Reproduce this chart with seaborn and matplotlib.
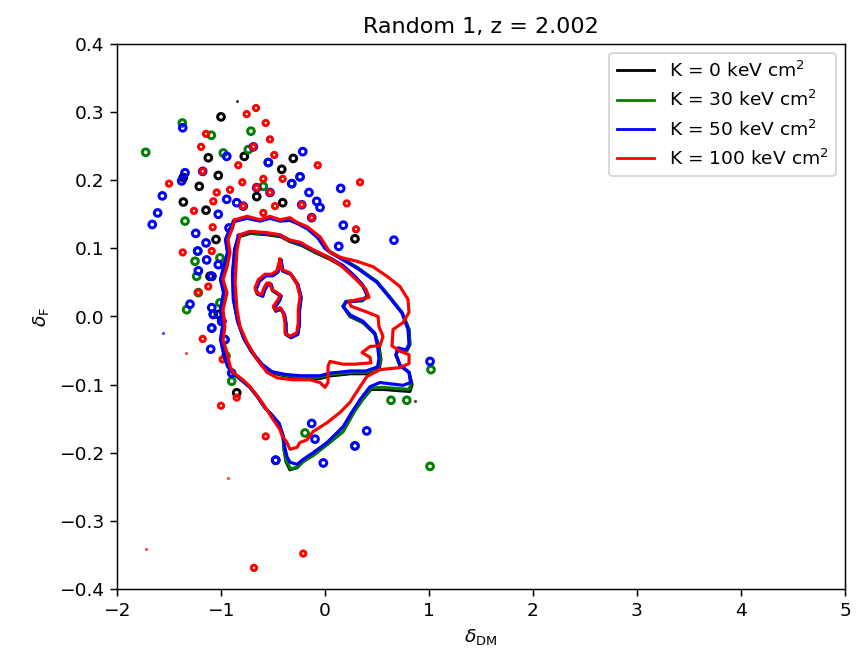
import numpy as np
import pandas as pd
import seaborn as sns
import matplotlib
matplotlib.use("Agg")
import matplotlib.pyplot as plt

# legend labels / line colours
k_labels = [r"K = 0 keV cm$^2$", r"K = 30 keV cm$^2$",
            r"K = 50 keV cm$^2$", r"K = 100 keV cm$^2$"]
k_colors = ["black", "green", "blue", "red"]

# ---- contour outlines (delta_DM, delta_F) ----
# innermost loop
inner_x_k0 = [-0.427, -0.410, -0.331, -0.266, -0.234, -0.251, -0.251, -0.266, -0.331, -0.379, -0.379, -0.395, -0.427, -0.475,
              -0.491, -0.443, -0.427, -0.506, -0.523, -0.555, -0.587, -0.603, -0.651, -0.667, -0.635, -0.571, -0.506, -0.458]
inner_x_k30 = [-0.424, -0.407, -0.328, -0.263, -0.231, -0.248, -0.248, -0.263, -0.328, -0.376, -0.376, -0.392, -0.424, -0.472,
               -0.488, -0.440, -0.424, -0.503, -0.520, -0.552, -0.584, -0.600, -0.648, -0.664, -0.632, -0.568, -0.503, -0.455]
inner_x_k50 = [-0.421, -0.404, -0.325, -0.260, -0.228, -0.245, -0.245, -0.260, -0.325, -0.373, -0.373, -0.389, -0.421, -0.469,
               -0.485, -0.437, -0.421, -0.500, -0.517, -0.549, -0.581, -0.597, -0.645, -0.661, -0.629, -0.565, -0.500, -0.452]
inner_y_low = [0.082, 0.067, 0.062, 0.047, 0.028, 0.008, -0.011, -0.026, -0.031, -0.026, -0.011, 0.003, 0.011, 0.008,
               0.013, 0.023, 0.030, 0.038, 0.047, 0.047, 0.038, 0.030, 0.033, 0.040, 0.052, 0.060, 0.060, 0.065]
inner_x_k100 = [-0.433, -0.416, -0.337, -0.272, -0.240, -0.257, -0.257, -0.272, -0.337, -0.385, -0.385, -0.401, -0.433, -0.481,
                -0.497, -0.449, -0.433, -0.512, -0.529, -0.561, -0.593, -0.609, -0.657, -0.673, -0.641, -0.577, -0.512, -0.464]
inner_y_k100 = [0.084, 0.069, 0.064, 0.049, 0.030, 0.010, -0.009, -0.024, -0.029, -0.024, -0.009, 0.005, 0.013, 0.010,
                0.015, 0.025, 0.032, 0.040, 0.049, 0.049, 0.040, 0.032, 0.035, 0.042, 0.054, 0.062, 0.062, 0.067]

# middle loop
mid_x_k0 = [-0.827, -0.721, -0.558, -0.423, -0.337, -0.221, -0.096, 0.048, 0.173, 0.288, 0.365, 0.413, 0.356, 0.202, 0.173, 0.240, 0.365, 0.481,
            0.519, 0.538, 0.519, 0.394, 0.240, 0.125, 0.048, -0.048, -0.240, -0.385, -0.510, -0.606, -0.702, -0.779, -0.837, -0.875, -0.885, -0.865]
mid_y_k0 = [0.117, 0.122, 0.120, 0.117, 0.110, 0.104, 0.094, 0.084, 0.073, 0.057, 0.044, 0.029, 0.023, 0.022, 0.015, 0.000, -0.009, -0.026,
            -0.044, -0.063, -0.078, -0.084, -0.084, -0.086, -0.087, -0.091, -0.091, -0.087, -0.083, -0.072, -0.053, -0.033, -0.008, 0.025, 0.062, 0.098]
mid_x_k30 = [-0.830, -0.721, -0.558, -0.423, -0.337, -0.221, -0.096, 0.048, 0.173, 0.288, 0.365, 0.413, 0.356, 0.202, 0.173, 0.240, 0.365, 0.481,
             0.514, 0.534, 0.514, 0.394, 0.240, 0.125, 0.048, -0.048, -0.240, -0.385, -0.510, -0.606, -0.702, -0.779, -0.840, -0.879, -0.888, -0.868]
mid_y_k30 = [0.118, 0.123, 0.121, 0.118, 0.111, 0.105, 0.095, 0.085, 0.074, 0.058, 0.045, 0.030, 0.024, 0.022, 0.015, 0.001, -0.008, -0.025,
             -0.044, -0.063, -0.076, -0.082, -0.082, -0.084, -0.085, -0.089, -0.089, -0.086, -0.082, -0.071, -0.052, -0.032, -0.007, 0.025, 0.062, 0.098]
mid_x_k50 = [-0.833, -0.721, -0.558, -0.423, -0.337, -0.221, -0.096, 0.048, 0.173, 0.288, 0.365, 0.408, 0.356, 0.202, 0.178, 0.245, 0.365, 0.476,
             0.505, 0.519, 0.505, 0.394, 0.240, 0.125, 0.048, -0.048, -0.240, -0.385, -0.510, -0.606, -0.707, -0.784, -0.842, -0.882, -0.890, -0.870]
mid_y_k50 = [0.119, 0.124, 0.122, 0.119, 0.112, 0.106, 0.096, 0.086, 0.075, 0.059, 0.046, 0.030, 0.024, 0.021, 0.014, 0.002, -0.007, -0.024,
             -0.043, -0.062, -0.074, -0.080, -0.080, -0.082, -0.083, -0.087, -0.087, -0.085, -0.081, -0.070, -0.051, -0.031, -0.006, 0.025, 0.062, 0.098]
mid_x_k100 = [-0.817, -0.721, -0.558, -0.433, -0.365, -0.240, -0.115, 0.019, 0.144, 0.288, 0.394, 0.423, 0.317, 0.231, 0.250, 0.394, 0.510,
              0.519, 0.558, 0.529, 0.433, 0.356, 0.433, 0.442, 0.288, 0.173, 0.048, 0.029, 0.029, 0.000, -0.048, -0.144, -0.308, -0.462,
              -0.558, -0.654, -0.750, -0.817, -0.846, -0.865, -0.846]
mid_y_k100 = [0.120, 0.125, 0.123, 0.120, 0.113, 0.109, 0.098, 0.088, 0.076, 0.056, 0.040, 0.028, 0.025, 0.022, 0.015, 0.007, 0.000,
              -0.015, -0.029, -0.043, -0.044, -0.053, -0.060, -0.068, -0.070, -0.070, -0.066, -0.073, -0.097, -0.104, -0.097, -0.093, -0.093, -0.090,
              -0.082, -0.063, -0.038, -0.015, 0.010, 0.050, 0.098]

# outer loop
outer_x_k0 = [-0.875, -0.750, -0.625, -0.529, -0.433, -0.337, -0.260, -0.163, -0.067, 0.000, 0.048, 0.173, 0.308, 0.500, 0.625, 0.740,
              0.808, 0.817, 0.788, 0.702, 0.683, 0.721, 0.808, 0.837, 0.817, 0.721, 0.558, 0.442, 0.356, 0.279, 0.173, 0.019, -0.115,
              -0.212, -0.269, -0.337, -0.375, -0.394, -0.404, -0.442, -0.510, -0.577, -0.644, -0.721, -0.798, -0.894, -0.933, -0.971,
              -1.000, -0.981, -1.000, -0.971, -1.000, -0.971, -0.933, -0.952, -0.904]
outer_y_k0 = [0.140, 0.145, 0.141, 0.145, 0.141, 0.142, 0.137, 0.129, 0.116, 0.101, 0.095, 0.084, 0.072, 0.051, 0.028, 0.006,
              -0.019, -0.041, -0.050, -0.047, -0.057, -0.072, -0.082, -0.100, -0.110, -0.109, -0.107, -0.107, -0.123, -0.140, -0.169, -0.188, -0.204,
              -0.213, -0.222, -0.225, -0.213, -0.195, -0.175, -0.157, -0.145, -0.134, -0.119, -0.104, -0.094, -0.082, -0.073, -0.054,
              -0.034, -0.015, 0.010, 0.035, 0.054, 0.073, 0.094, 0.113, 0.131]
outer_x_k30 = [-0.878, -0.750, -0.625, -0.529, -0.433, -0.337, -0.260, -0.163, -0.067, 0.000, 0.048, 0.173, 0.308, 0.500, 0.625, 0.740,
               0.804, 0.813, 0.784, 0.702, 0.683, 0.721, 0.808, 0.827, 0.808, 0.721, 0.558, 0.442, 0.356, 0.279, 0.173, 0.019, -0.115,
               -0.212, -0.269, -0.327, -0.370, -0.394, -0.404, -0.442, -0.510, -0.577, -0.644, -0.721, -0.798, -0.894, -0.935, -0.973,
               -1.002, -0.983, -1.002, -0.973, -1.002, -0.973, -0.935, -0.954, -0.906]
outer_y_k30 = [0.140, 0.145, 0.141, 0.145, 0.141, 0.142, 0.137, 0.129, 0.116, 0.101, 0.095, 0.084, 0.072, 0.051, 0.028, 0.006,
               -0.019, -0.041, -0.050, -0.047, -0.057, -0.072, -0.082, -0.099, -0.107, -0.106, -0.104, -0.105, -0.123, -0.140, -0.169, -0.188, -0.204,
               -0.213, -0.221, -0.224, -0.213, -0.195, -0.175, -0.157, -0.145, -0.134, -0.119, -0.104, -0.094, -0.082, -0.073, -0.054,
               -0.034, -0.015, 0.010, 0.035, 0.054, 0.073, 0.094, 0.113, 0.131]
outer_x_k50 = [-0.880, -0.750, -0.625, -0.529, -0.433, -0.337, -0.260, -0.163, -0.067, 0.000, 0.048, 0.173, 0.308, 0.500, 0.625, 0.740,
               0.798, 0.808, 0.779, 0.702, 0.683, 0.721, 0.808, 0.824, 0.750, 0.529, 0.433, 0.337, 0.260, 0.173, 0.019, -0.115, -0.212,
               -0.269, -0.337, -0.365, -0.385, -0.404, -0.442, -0.510, -0.577, -0.644, -0.721, -0.798, -0.894, -0.938, -0.976, -1.005,
               -0.986, -1.005, -0.976, -1.005, -0.976, -0.938, -0.957, -0.909]
outer_y_k50 = [0.139, 0.144, 0.140, 0.144, 0.140, 0.141, 0.136, 0.128, 0.115, 0.100, 0.094, 0.083, 0.071, 0.050, 0.027, 0.005,
               -0.019, -0.041, -0.049, -0.046, -0.056, -0.071, -0.082, -0.097, -0.101, -0.097, -0.103, -0.122, -0.140, -0.162, -0.185, -0.200, -0.210,
               -0.217, -0.214, -0.206, -0.193, -0.175, -0.157, -0.145, -0.134, -0.119, -0.104, -0.094, -0.082, -0.073, -0.054, -0.034,
               -0.015, 0.010, 0.035, 0.054, 0.073, 0.094, 0.113, 0.131]
outer_x_k100 = [-0.865, -0.750, -0.625, -0.529, -0.433, -0.337, -0.269, -0.173, -0.048, 0.048, 0.144, 0.308, 0.462, 0.596, 0.721,
                0.798, 0.808, 0.750, 0.654, 0.644, 0.721, 0.808, 0.808, 0.721, 0.529, 0.404, 0.337, 0.240, 0.144, 0.019, -0.115, -0.173,
                -0.240, -0.269, -0.337, -0.365, -0.413, -0.433, -0.500, -0.558, -0.625, -0.721, -0.788, -0.885, -0.913, -0.942, -0.981,
                -0.962, -0.981, -0.942, -0.981, -0.942, -0.913, -0.933, -0.885]
outer_y_k100 = [0.142, 0.147, 0.142, 0.147, 0.142, 0.145, 0.138, 0.132, 0.117, 0.094, 0.087, 0.081, 0.073, 0.059, 0.044,
                0.025, 0.006, -0.009, -0.019, -0.043, -0.051, -0.056, -0.069, -0.075, -0.078, -0.088, -0.103, -0.126, -0.141, -0.156, -0.169, -0.181,
                -0.185, -0.192, -0.195, -0.185, -0.175, -0.166, -0.151, -0.137, -0.122, -0.103, -0.093, -0.082, -0.073, -0.053, -0.034,
                -0.015, 0.010, 0.035, 0.054, 0.073, 0.094, 0.113, 0.132]

# ---- small isolated islands of the contours ----
blob_x_k0 = [-1.000, -1.122, -0.776, -0.305, -0.416, -1.026, -1.362, -1.209, -1.362, -0.407, -1.144, -0.657, 0.288, -1.048, -1.106,
             -1.089, -1.026, -0.993, -0.849, -0.474]
blob_y_k0 = [0.293, 0.233, 0.235, 0.232, 0.216, 0.207, 0.204, 0.191, 0.168, 0.167, 0.156, 0.176, 0.114, 0.113, 0.059,
             0.059, 0.003, -0.007, -0.112, -0.211]
blob_x_k30 = [-1.372, -1.093, -0.712, -0.737, -1.724, -0.978, -0.545, -0.240, -0.320, -0.593, -1.346, -1.224, -1.010, -1.250, -1.234,
              -1.218, -1.010, -1.330, -1.074, -1.089, -0.962, -0.952, -0.897, -0.192, 0.288, 1.010, 0.635, 0.786, 1.019]
blob_y_k30 = [0.284, 0.266, 0.272, 0.245, 0.241, 0.240, 0.226, 0.205, 0.195, 0.191, 0.140, 0.096, 0.086, 0.081, 0.059,
              0.035, 0.020, 0.010, 0.003, -0.017, -0.034, -0.058, -0.095, -0.171, -0.190, -0.220, -0.123, -0.123, -0.078]
blob_x_k50 = [-1.368, -0.689, -0.945, -0.214, -0.545, -1.176, -1.346, -0.240, -0.320, -1.378, -0.657, 0.151, -0.529, -0.154, -1.564,
              -0.945, -0.786, -0.849, -0.224, -0.048, -0.080, -1.026, -0.128, -1.609, -1.661, 0.176, -0.923, -1.243, 0.663, 0.132,
              -1.144, -1.224, -1.138, -1.218, -1.026, -1.089, -1.298, -1.089, -1.074, -0.993, -1.089, -0.962, -1.099, -0.897, -0.128,
              -0.096, 0.401, 0.288, -0.474, -0.016, 1.010]
blob_y_k50 = [0.277, 0.249, 0.235, 0.242, 0.226, 0.213, 0.211, 0.205, 0.195, 0.199, 0.189, 0.188, 0.182, 0.182, 0.177,
              0.172, 0.162, 0.167, 0.164, 0.160, 0.169, 0.150, 0.145, 0.152, 0.135, 0.134, 0.130, 0.122, 0.112, 0.103,
              0.108, 0.096, 0.083, 0.067, 0.076, 0.059, 0.018, 0.013, 0.003, -0.007, -0.017, -0.034, -0.048, -0.083, -0.157,
              -0.180, -0.168, -0.190, -0.211, -0.215, -0.066]
blob_x_k100 = [-0.663, -0.753, -0.570, -1.144, -0.529, -1.192, -0.689, -0.488, -0.834, -0.070, -1.176, -0.407, -0.593, -0.795, 0.337,
               -1.500, -0.657, -0.913, -1.041, -0.529, 0.209, -1.074, -0.786, -0.481, -0.224, -1.260, -0.593, -0.128, -1.080, 0.298,
               -1.368, -1.089, -1.122, -1.218, -1.176, -0.984, -0.849, -1.000, -0.570, -0.209, -0.683]
blob_y_k100 = [0.306, 0.297, 0.284, 0.268, 0.260, 0.249, 0.249, 0.237, 0.222, 0.222, 0.213, 0.202, 0.202, 0.197, 0.197,
               0.195, 0.189, 0.186, 0.182, 0.182, 0.166, 0.169, 0.162, 0.162, 0.164, 0.155, 0.152, 0.145, 0.131, 0.128,
               0.094, 0.096, 0.044, 0.035, -0.033, -0.063, -0.119, -0.131, -0.176, -0.348, -0.369]
# tiny specks
speck_x_k0 = [-0.849, 0.865]
speck_y_k0 = [0.316, -0.124]
speck_x_k50 = [-1.561]
speck_y_k50 = [-0.024]
speck_x_k100 = [-1.339, -0.930, -1.724]
speck_y_k100 = [-0.054, -0.237, -0.341]

loops = {
    k_labels[0]: [(inner_x_k0, inner_y_low), (mid_x_k0, mid_y_k0), (outer_x_k0, outer_y_k0)],
    k_labels[1]: [(inner_x_k30, inner_y_low), (mid_x_k30, mid_y_k30), (outer_x_k30, outer_y_k30)],
    k_labels[2]: [(inner_x_k50, inner_y_low), (mid_x_k50, mid_y_k50), (outer_x_k50, outer_y_k50)],
    k_labels[3]: [(inner_x_k100, inner_y_k100), (mid_x_k100, mid_y_k100), (outer_x_k100, outer_y_k100)],
}
blobs = [(blob_x_k0, blob_y_k0), (blob_x_k30, blob_y_k30), (blob_x_k50, blob_y_k50), (blob_x_k100, blob_y_k100)]
specks = [(speck_x_k0, speck_y_k0), ([], []), (speck_x_k50, speck_y_k50), (speck_x_k100, speck_y_k100)]

# long table, each loop closed back on its first point
rows = []
for lab, parts in loops.items():
    for i, (xs, ys) in enumerate(parts):
        for xv, yv in zip(list(xs) + [xs[0]], list(ys) + [ys[0]]):
            rows.append({'dDM': xv, 'dF': yv, 'K': lab, 'loop': i})
df = pd.DataFrame(rows)

fig = plt.figure(figsize=(6.4, 4.89), dpi=133.75)
ax = fig.add_axes([117 / 856, 1 - 589 / 654, 728 / 856, 545 / 654])

# islands first, drawn as small thick rings
blob_sizes = [13, 13, 13, 8]
for (bx, by), (sx, sy), col, sz in zip(blobs, specks, k_colors, blob_sizes):
    ax.scatter(bx, by, s=sz, facecolors='none', edgecolors=col, linewidths=1.6, zorder=1)
    if len(sx):
        ax.scatter(sx, sy, s=3, color=col, linewidths=0, alpha=0.7, zorder=1)

sns.lineplot(data=df, x='dDM', y='dF', hue='K', hue_order=k_labels, palette=k_colors,
             units='loop', estimator=None, sort=False, lw=1.7, ax=ax)

ax.set_xlim(-2, 5)
ax.set_ylim(-0.4, 0.4)
ax.set_xlabel(r'$\delta_{\rm DM}$')
ax.set_ylabel(r'$\delta_{\rm F}$')
ax.set_title('Random 1, z = 2.002')
sns.move_legend(ax, 'upper right', title=None)
# legend keys are thinner than the contour lines
for line in ax.get_legend().get_lines():
    line.set_linewidth(1.5)

plt.savefig('out.png', dpi=133.75)
